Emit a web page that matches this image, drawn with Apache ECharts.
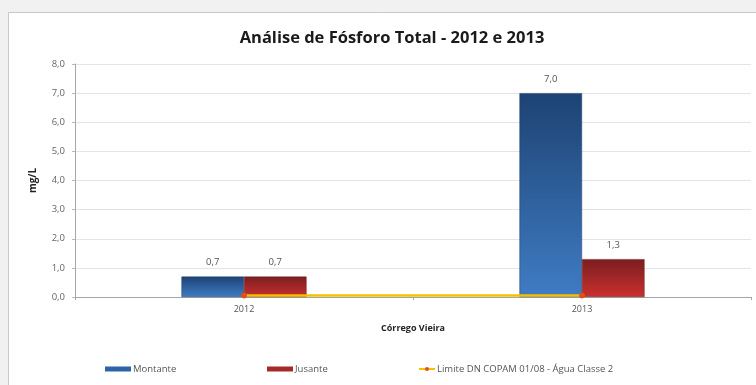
<!DOCTYPE html>
<html>
<head>
<meta charset="utf-8">
<script src="https://cdn.jsdelivr.net/npm/echarts@6/dist/echarts.min.js"></script>
<style>
  html, body { margin: 0; padding: 0; background: #f1f1f1; }
  #chart { width: 756px; height: 385px; }
</style>
</head>
<body>
<div id="chart"></div>
<script>
// Fósforo total (mg/L) no Córrego Vieira, por ponto de coleta
const years = ['2012', '2013'];
const montante = [0.7, 7.0];
const jusante = [0.7, 1.3];
const limite = [0.05, 0.05];        // DN COPAM 01/08 - Água Classe 2
const yTicks = [0, 1, 2, 3, 4, 5, 6, 7, 8];

const fmt = v => Number(v).toFixed(1).replace('.', ',');
const font = 'Open Sans';

const chart = echarts.init(document.getElementById('chart'));

function barGradient(top, bottom) {
  return new echarts.graphic.LinearGradient(0, 0, 0, 1, [
    { offset: 0, color: top },
    { offset: 1, color: bottom }
  ]);
}

chart.setOption({
  backgroundColor: '#f1f1f1',
  animation: false,
  graphic: [{
    type: 'rect',
    shape: { x: 8.5, y: 12.5, width: 760, height: 380 },
    style: { fill: '#ffffff', stroke: '#c9c9c9', lineWidth: 1 },
    z: -10
  }],
  title: {
    text: 'Análise de Fósforo Total - 2012 e 2013',
    left: 387, top: 25, textAlign: 'center',
    textStyle: { fontFamily: font, fontSize: 16.5, fontWeight: 'bold', color: '#1a1a1a' }
  },
  grid: { left: 75, right: 5, top: 64, bottom: 88 },
  legend: [
    { data: [{ name: 'Montante', icon: 'rect', itemStyle: { color: '#2e64a6', borderWidth: 0 } }], left: 100, top: 359 },
    { data: [{ name: 'Jusante', icon: 'rect', itemStyle: { color: '#a52a2a', borderWidth: 0 } }], left: 262, top: 359 },
    { data: ['Limite DN COPAM 01/08 - Água Classe 2'], left: 413, top: 359, itemWidth: 16 }
  ].map(l => Object.assign({
    itemWidth: 26, itemHeight: 5, itemGap: 4,
    textStyle: { fontFamily: font, fontSize: 9.5, color: '#555', padding: [0, 0, 0, -3] }
  }, l)),
  xAxis: {
    type: 'category',
    data: years,
    name: 'Córrego Vieira',
    nameLocation: 'middle',
    nameGap: 27,
    nameTextStyle: { fontFamily: font, fontSize: 9, fontWeight: 'bold', color: '#222' },
    axisLine: { lineStyle: { color: '#a6a6a6' } },
    axisTick: { show: true, length: 3, lineStyle: { color: '#a6a6a6' } },
    axisLabel: { fontFamily: font, fontSize: 9, color: '#555', margin: 8 }
  },
  yAxis: {
    type: 'value',
    min: yTicks[0], max: yTicks[yTicks.length - 1], interval: 1,
    name: 'mg/L',
    nameLocation: 'middle',
    nameGap: 37,
    nameTextStyle: { fontFamily: font, fontSize: 10, fontWeight: 'bold', color: '#222' },
    axisLine: { show: true, lineStyle: { color: '#a6a6a6' } },
    axisTick: { show: true, length: 3, lineStyle: { color: '#bbb' } },
    axisLabel: { fontFamily: font, fontSize: 9.5, color: '#666', margin: 10, formatter: fmt },
    splitLine: { lineStyle: { color: '#e4e4e4' } }
  },
  series: [
    {
      name: 'Montante', type: 'bar', data: montante,
      barGap: '0%', barCategoryGap: '63%',
      itemStyle: { color: barGradient('#1d4373', '#3f7cc4'), borderColor: '#1c3c66', borderWidth: 0.5 },
      label: { show: true, position: 'top', distance: 9, formatter: p => fmt(p.value),
        fontFamily: font, fontSize: 9.5, color: '#555' }
    },
    {
      name: 'Jusante', type: 'bar', data: jusante,
      itemStyle: { color: barGradient('#7a1e20', '#c9302e'), borderColor: '#6e1a1a', borderWidth: 0.5 },
      label: { show: true, position: 'top', distance: 9, formatter: p => fmt(p.value),
        fontFamily: font, fontSize: 9.5, color: '#555' }
    },
    {
      name: 'Limite DN COPAM 01/08 - Água Classe 2', type: 'line', data: limite,
      symbol: 'circle', symbolSize: 5,
      lineStyle: { color: '#f5c000', width: 2.5 },
      itemStyle: { color: '#e0501a', borderColor: '#e0501a' },
      z: 5
    }
  ]
});
</script>
</body>
</html>
